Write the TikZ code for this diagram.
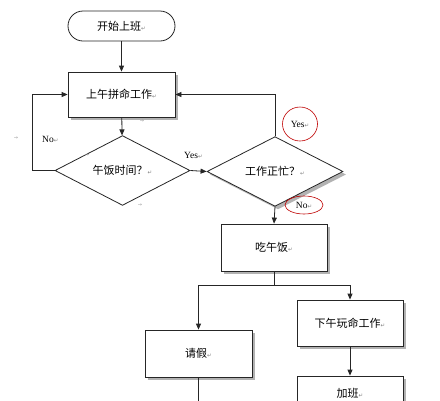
\documentclass[tikz,border=0pt]{standalone}
\usepackage{fontspec}
\setmainfont{Liberation Serif}
\newfontfamily\cjk{Noto Sans CJK SC}
\newfontfamily\symf{DejaVu Sans}
\usetikzlibrary{arrows.meta,shapes.geometric,shadows}
\newcommand{\rmk}{{\symf\fontsize{5.5}{5.5}\selectfont\color{gray}↵}}
\begin{document}
\begin{tikzpicture}[x=1pt,y=-1pt,
  line/.style={line width=0.8pt,draw=black!85},
  arr/.style={line,-{Triangle[length=6pt,width=5pt]}},
  shad/.style={drop shadow={shadow xshift=3pt,shadow yshift=-3pt,fill=gray!60,opacity=1}},
  box/.style={rectangle,draw=black!85,line width=0.8pt,fill=white,inner sep=0pt,font=\cjk\fontsize{11}{13}\selectfont},
  dia/.style={diamond,draw=black!85,line width=0.8pt,fill=white,inner sep=0pt,font=\cjk\fontsize{11}{13}\selectfont},
  lab/.style={font=\fontsize{9.5}{11}\selectfont,inner sep=0pt},
  redel/.style={ellipse,draw=red!75!black,line width=0.6pt,inner sep=0pt,font=\fontsize{9.5}{11}\selectfont},
  tabm/.style={font=\symf\fontsize{5}{5}\selectfont,text=gray!80,inner sep=0pt}]
\useasboundingbox (0,0) rectangle (440,400);
\clip (0,0) rectangle (440,400);
\fill[white] (0,0) rectangle (440,400);

\node[box,rounded corners=15pt,minimum width=107pt,minimum height=30pt] (start) at (121.5,26) {开始上班\rmk};
\node[box,shad,minimum width=107pt,minimum height=45pt] (am) at (121.5,94.5) {上午拼命工作\rmk};
\node[dia,minimum width=135pt,minimum height=45pt] (d1) at (122.5,170.5) {午饭时间？\rmk};
\node[dia,shad,minimum width=136pt,minimum height=47pt] (d2) at (275,171.5) {工作正忙？\rmk};
\node[box,shad,minimum width=106pt,minimum height=47pt] (lunch) at (274,247.5) {吃午饭\rmk};
\node[box,shad,minimum width=106pt,minimum height=46pt] (pm) at (350,323) {下午玩命工作\rmk};
\node[box,shad,minimum width=107pt,minimum height=47pt] (leave) at (198.5,353.5) {请假\rmk};
\node[box,shad,minimum width=106pt,minimum height=34pt] (ot) at (350,393) {加班\rmk};

\coordinate (bot) at (198.5,402);

\draw[arr] (start) -- (am);
\draw[arr] (am) -- (d1);
\draw[arr] (d1.west) -- ++(-22,0) |- (am.west);
\draw[arr] (d1.east) -- (d2.west);
\draw[arr] (d2.north) |- (am.east);
\draw[arr] (d2.south) -- (lunch.north);
\draw[arr] (lunch.south) -- ++(0,14) -| (leave.north);
\draw[arr] (lunch.south) -- ++(0,14) -| (pm.north);
\draw[line] (leave.south) -- (bot);
\draw[arr] (pm.south) -- (ot.north);

\node[lab,anchor=west] (no1) at (42,139) {No\rmk};
\node[lab,anchor=west] (yes1) at (184,155) {Yes\rmk};
\node[redel,minimum width=35pt,minimum height=34pt] (yes2) at (300,124) {Yes\rmk};
\node[redel,minimum width=38pt,minimum height=18pt] (no2) at (304,205) {No\rmk};

\node[tabm] (t1) at (16,138) {→};
\node[tabm] (t2) at (142,121) {→};
\node[tabm] (t3) at (87,155) {→};
\node[tabm] (t4) at (140,205) {→};
\end{tikzpicture}
\end{document}
